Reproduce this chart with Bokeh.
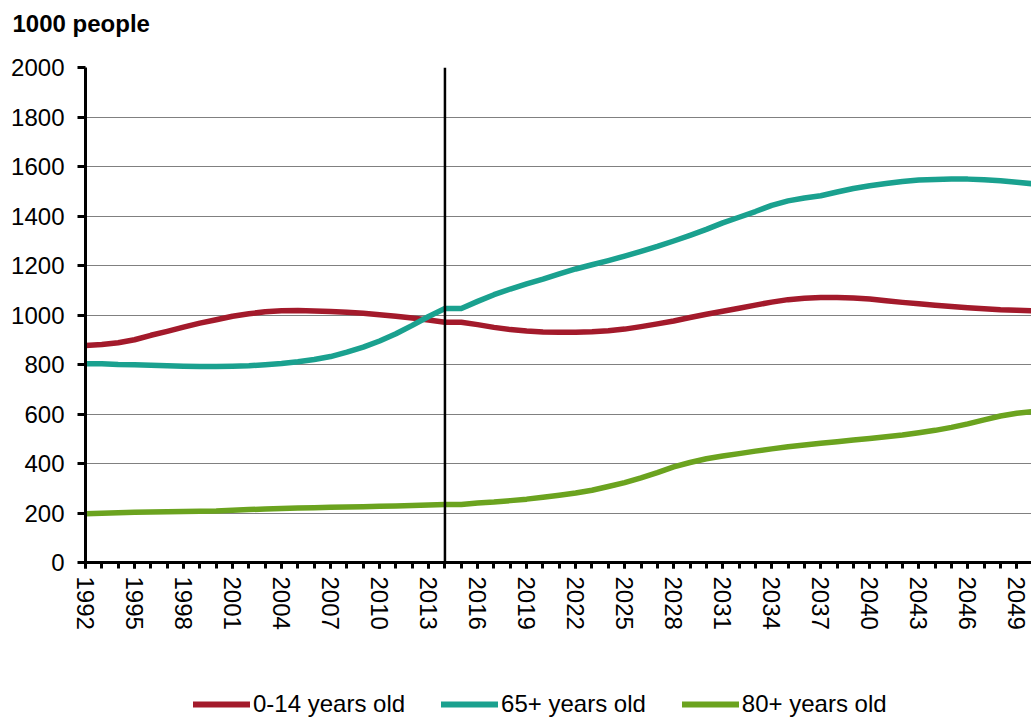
from bokeh.plotting import figure
from bokeh.layouts import column
from bokeh.models import Range1d, SingleIntervalTicker, Span, Legend, LegendItem
from bokeh.embed import file_html
from bokeh.resources import INLINE

years = list(range(1992, 2051))
age_0_14 = [877, 881, 888, 900, 918, 934, 951, 967, 981, 995,
            1005, 1013, 1017, 1018, 1016, 1014, 1011, 1007, 1001, 995,
            988, 980, 971, 971, 961, 950, 941, 935, 931, 930,
            930, 932, 936, 943, 953, 964, 976, 990, 1003, 1015,
            1027, 1040, 1052, 1062, 1068, 1071, 1071, 1069, 1065, 1058,
            1051, 1045, 1039, 1034, 1029, 1025, 1021, 1019, 1017]
age_65_plus = [803, 803, 800, 799, 797, 795, 793, 792, 792, 793,
               795, 799, 804, 811, 820, 832, 850, 870, 895, 924,
               958, 994, 1026, 1026, 1055, 1082, 1105, 1126, 1145, 1166,
               1186, 1203, 1220, 1238, 1257, 1277, 1299, 1322, 1346, 1372,
               1395, 1418, 1443, 1461, 1473, 1482, 1497, 1511, 1522, 1531,
               1539, 1545, 1547, 1549, 1549, 1546, 1542, 1536, 1530]
age_80_plus = [197, 199, 201, 203, 204, 205, 206, 207, 208, 211,
               214, 216, 218, 220, 221, 223, 224, 225, 227, 228,
               230, 232, 234, 234, 240, 244, 250, 256, 264, 272,
               281, 292, 307, 323, 342, 363, 386, 404, 419, 430,
               440, 450, 459, 468, 475, 482, 488, 495, 501, 508,
               515, 524, 534, 546, 560, 576, 592, 603, 610]
series_names = ["0-14 years old", "65+ years old", "80+ years old"]
series_colors = ["#A31A2B", "#1AA18F", "#6BA31F"]
forecast_start = 2014
y_label = "1000 people"

FONT = "Liberation Sans"
series_values = [age_0_14, age_65_plus, age_80_plus]

p = figure(width=1031, height=670, output_backend="svg", toolbar_location=None,
           x_range=Range1d(1992, 2049.9), y_range=Range1d(0, 2000),
           min_border_left=85, min_border_right=0, min_border_top=67,
           min_border_bottom=108)
p.outline_line_color = None
p.background_fill_color = "white"
p.border_fill_color = "white"

# second (blank) line lifts the unit label away from the plot area
p.title.text = y_label + "\n "
p.title.text_font = FONT
p.title.text_font_size = "24px"
p.title.text_font_style = "bold"
p.title.text_color = "black"
p.title.align = "left"
p.title.offset = -73
p.title.standoff = 8

for vals, col in zip(series_values, series_colors):
    p.line(years, vals, line_color=col, line_width=5.5, line_cap="round", line_join="round")

p.add_layout(Span(location=forecast_start, dimension="height", line_color="black", line_width=2.5))

# axes
p.xaxis.ticker = SingleIntervalTicker(interval=3, num_minor_ticks=3)
p.yaxis.ticker = SingleIntervalTicker(interval=200, num_minor_ticks=0)
for ax in [p.xaxis[0], p.yaxis[0]]:
    ax.axis_line_color = "black"
    ax.axis_line_width = 3
    ax.major_tick_line_color = "black"
    ax.major_tick_line_width = 3
    ax.major_tick_in = 0
    ax.major_label_text_font = FONT
    ax.major_label_text_font_size = "24px"
    ax.major_label_text_color = "black"
p.xaxis.major_tick_out = 6
p.xaxis.minor_tick_out = 6
p.xaxis.minor_tick_in = 0
p.xaxis.minor_tick_line_color = "black"
p.xaxis.minor_tick_line_width = 3
p.xaxis.major_label_orientation = "vertical"
p.xaxis.major_label_standoff = 8
p.yaxis.major_tick_out = 8
p.yaxis.minor_tick_line_color = None
p.yaxis.major_label_standoff = 13

p.xgrid.grid_line_color = None
p.ygrid.grid_line_color = "black"
p.ygrid.grid_line_width = 1
p.ygrid.grid_line_dash = "1 1"

# legend strip under the chart (its series lie outside its view; only the legend shows)
pl = figure(width=1031, height=48, output_backend="svg", toolbar_location=None,
            x_range=Range1d(0, 1), y_range=Range1d(0, 1),
            x_axis_location=None, y_axis_location=None,
            min_border_left=0, min_border_right=0, min_border_top=0, min_border_bottom=0)
pl.outline_line_color = None
pl.xgrid.grid_line_color = None
pl.ygrid.grid_line_color = None
leg_renderers = [pl.line(years, vals, line_color=c, line_width=6, line_cap="round")
                 for vals, c in zip(series_values, series_colors)]
legend = Legend(items=[LegendItem(label=n, renderers=[r]) for n, r in zip(series_names, leg_renderers)],
                orientation="horizontal", location=(108, 0),
                glyph_width=57, glyph_height=24, label_height=24,
                label_standoff=3, spacing=36, padding=0, margin=0,
                label_text_font=FONT, label_text_font_size="24px", label_text_color="black",
                border_line_color=None, background_fill_alpha=0)
pl.add_layout(legend)

layout = column(p, pl, spacing=0)
open("out.html", "w").write(file_html(layout, INLINE))
